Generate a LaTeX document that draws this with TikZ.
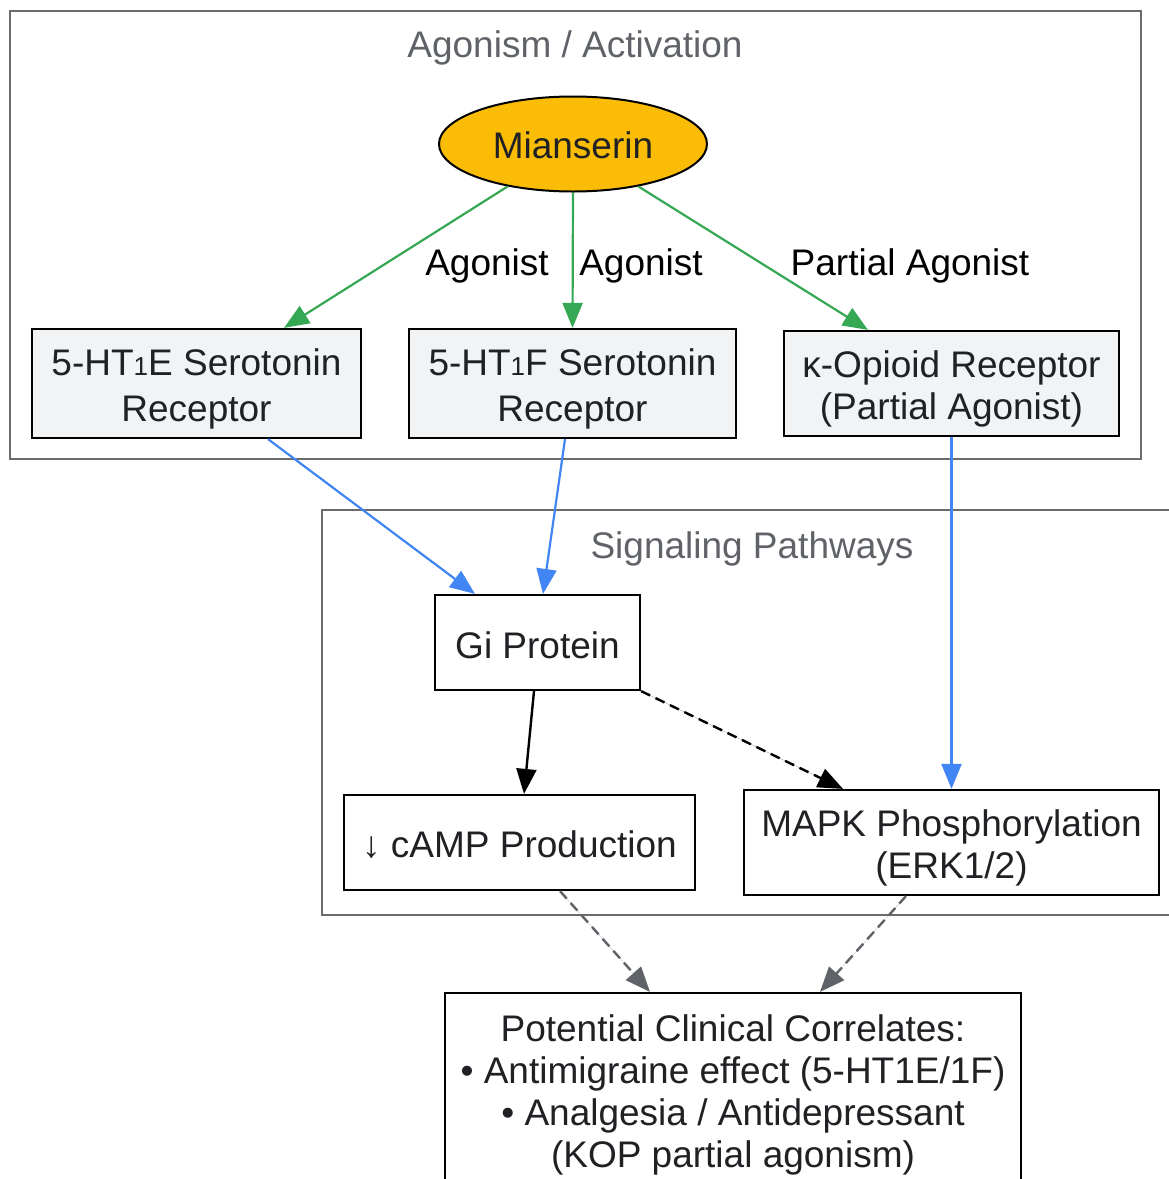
\documentclass[tikz,border=0pt]{standalone}
\usepackage{fontspec}
\setmainfont{Liberation Sans}
\usetikzlibrary{shapes.geometric,arrows.meta}
\definecolor{cgreen}{HTML}{34A853}
\definecolor{cblue}{HTML}{4285F4}
\definecolor{cyellow}{HTML}{FBBC05}
\definecolor{cboxfill}{HTML}{F1F3F4}
\definecolor{ctext}{HTML}{202124}
\definecolor{cgray}{HTML}{5F6368}
\definecolor{cborder}{HTML}{6B6B6B}
\tikzset{
  every node/.style={font=\fontsize{37}{42}\selectfont, text=ctext, inner sep=0pt},
  every label/.style={font=\fontsize{37}{42}\selectfont, text=ctext, inner sep=0pt},
  cluster/.style={draw=cborder, line width=2pt, rectangle},
  clusterlabel/.style={text=cgray},
  boxtext/.style={label={[align=center,yshift=-5pt]center:{#1}}},
  onetext/.style={label={[align=center,yshift=-2.5pt]center:{#1}}},
  recbox/.style={draw=black, line width=2.2pt, rectangle, fill=cboxfill},
  sigbox/.style={draw=black, line width=2.2pt, rectangle, fill=white},
  tip/.style={-{Triangle[length=25pt,width=20pt]}},
  greenarrow/.style={tip, draw=cgreen, fill=cgreen, line width=2.2pt},
  bluearrow/.style={tip, draw=cblue, fill=cblue, line width=2.2pt},
  blackarrow/.style={tip, draw=black, fill=black, line width=2.4pt},
  grayarrow/.style={tip, draw=cgray, fill=cgray, line width=2.4pt, dash pattern=on 10pt off 6pt},
  edgelabel/.style={text=black},
}
\begin{document}
\begin{tikzpicture}[x=1pt,y=-1pt]
\useasboundingbox (0,0) rectangle (1169,1179);
\clip (0,0) rectangle (1169,1179);
\fill[white] (0,0) rectangle (1169,1179);
% clusters
\node[cluster, minimum width=1131pt, minimum height=448pt] (c1) at (575.5,235) {};
\node[clusterlabel] (c1l) at (575,47.5) {Agonism / Activation};
\node[cluster, minimum width=860pt, minimum height=405pt] (c2) at (752,712.5) {};
\node[clusterlabel] (c2l) at (752,548.5) {Signaling Pathways};
% nodes
\node[ellipse, draw=black, line width=2pt, fill=cyellow, minimum width=268pt, minimum height=95pt, label={[yshift=-1pt]center:Mianserin}] (m) at (573,144) {};
\node[recbox, minimum width=329pt, minimum height=109pt, boxtext={5-HT{\fontsize{26}{26}\selectfont 1}E Serotonin\\[4pt]Receptor}] (e) at (196.5,383.5) {};
\node[recbox, minimum width=327pt, minimum height=109pt, boxtext={5-HT{\fontsize{26}{26}\selectfont 1}F Serotonin\\[4pt]Receptor}] (f) at (572.5,383.5) {};
\node[recbox, minimum width=335pt, minimum height=105pt, boxtext={κ-Opioid Receptor\\(Partial Agonist)}] (k) at (951.5,383.5) {};
\node[sigbox, minimum width=205pt, minimum height=95pt, onetext={Gi Protein}] (g) at (537.5,642.5) {};
\node[sigbox, minimum width=351pt, minimum height=95pt, onetext={↓ cAMP Production}] (camp) at (519.5,842.5) {};
\node[sigbox, minimum width=415pt, minimum height=105pt, boxtext={MAPK Phosphorylation\\(ERK1/2)}] (mapk) at (951.5,842.5) {};
\node[sigbox, minimum width=576pt, minimum height=194pt, boxtext={Potential Clinical Correlates:\\• Antimigraine effect (5-HT1E/1F)\\• Analgesia / Antidepressant\\(KOP partial agonism)}] (clin) at (733,1090) {};
% edges
\draw[greenarrow] (m.213) -- ([xshift=87.5pt]e.north);
\draw[greenarrow] (m.south) -- (f.north);
\draw[greenarrow] (m.-33) -- ([xshift=-83.5pt]k.north);
\node[edgelabel] (l1) at (487,265.5) {Agonist};
\node[edgelabel] (l2) at (641,265.5) {Agonist};
\node[edgelabel] (l3) at (910,265.5) {Partial Agonist};
\draw[bluearrow] ([xshift=71.5pt]e.south) -- ([xshift=-62.5pt]g.north);
\draw[bluearrow] ([xshift=-7.5pt]f.south) -- ([xshift=5.5pt]g.north);
\draw[bluearrow] (k.south) -- (mapk.north);
\draw[blackarrow] ([xshift=-3.5pt]g.south) -- ([xshift=4.5pt]camp.north);
\draw[blackarrow, dash pattern=on 10pt off 6pt] (g.south east) -- ([xshift=-108.5pt]mapk.north);
\draw[grayarrow] ([xshift=40.5pt]camp.south) -- ([xshift=-83pt]clin.north);
\draw[grayarrow] ([xshift=-45.5pt]mapk.south) -- ([xshift=87pt]clin.north);
\end{tikzpicture}
\end{document}
